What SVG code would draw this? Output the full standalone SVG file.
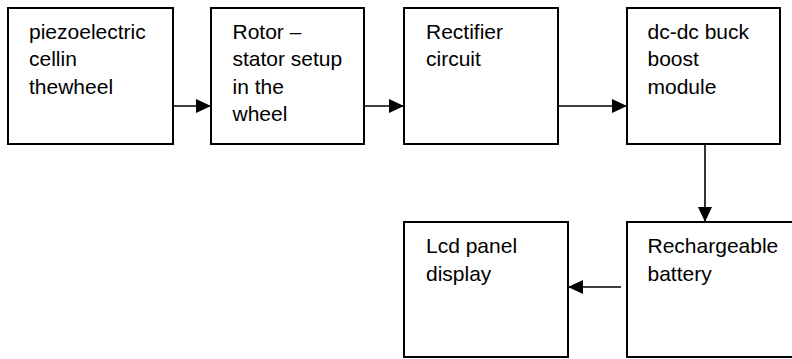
<svg xmlns="http://www.w3.org/2000/svg" width="792" height="359" viewBox="0 0 792 359">
<defs>
<style>
.box{fill:#fff;stroke:#000;stroke-width:2}
.lbl{font-family:"Liberation Sans",Arial,sans-serif;font-size:21px;fill:#000}
.conn{stroke:#000;stroke-width:1.6;fill:none}
</style>
<marker id="ah" viewBox="0 0 15 14" refX="15" refY="7" markerWidth="15" markerHeight="14" markerUnits="userSpaceOnUse" orient="auto">
<path d="M0,0 L15,7 L0,14 Z" fill="#000"/>
</marker>
</defs>
<rect width="792" height="359" fill="#fff"/>
<g id="connectors">
<line class="conn" x1="173" y1="106" x2="211" y2="106" marker-end="url(#ah)"/>
<line class="conn" x1="364" y1="106" x2="404" y2="106" marker-end="url(#ah)"/>
<line class="conn" x1="558" y1="106" x2="627" y2="106" marker-end="url(#ah)"/>
<line class="conn" x1="705" y1="144" x2="705" y2="222" marker-end="url(#ah)"/>
<line class="conn" x1="621" y1="287" x2="568" y2="287" marker-end="url(#ah)"/>
</g>
<g id="piezo">
<rect class="box" x="8" y="8" width="165" height="136"/>
<text class="lbl" x="29" y="38.5">piezoelectric</text>
<text class="lbl" x="29" y="66">cellin</text>
<text class="lbl" x="29" y="93.5">thewheel</text>
</g>
<g id="rotor">
<rect class="box" x="211" y="8" width="153" height="136"/>
<text class="lbl" x="232.5" y="38.5">Rotor –</text>
<text class="lbl" x="232.5" y="66">stator setup</text>
<text class="lbl" x="232.5" y="93.5">in the</text>
<text class="lbl" x="232.5" y="121">wheel</text>
</g>
<g id="rectifier">
<rect class="box" x="404" y="8" width="154" height="136"/>
<text class="lbl" x="426" y="38.5">Rectifier</text>
<text class="lbl" x="426" y="66">circuit</text>
</g>
<g id="dcdc">
<rect class="box" x="627" y="8" width="153" height="136"/>
<text class="lbl" x="647.5" y="38.5">dc-dc buck</text>
<text class="lbl" x="647.5" y="66">boost</text>
<text class="lbl" x="647.5" y="93.5">module</text>
</g>
<g id="battery">
<rect class="box" x="627" y="222" width="200" height="135"/>
<text class="lbl" x="647.5" y="253">Rechargeable</text>
<text class="lbl" x="647.5" y="280.5">battery</text>
</g>
<g id="lcd">
<rect class="box" x="404" y="222" width="164" height="135"/>
<text class="lbl" x="426" y="253">Lcd panel</text>
<text class="lbl" x="426" y="280.5">display</text>
</g>
</svg>
